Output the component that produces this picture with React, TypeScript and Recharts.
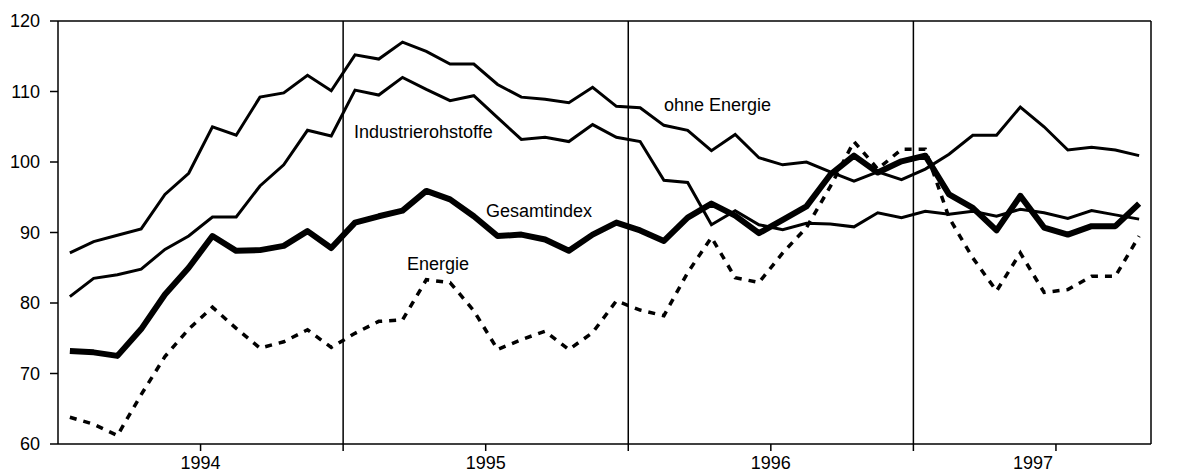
import { LineChart, Line, XAxis, YAxis, ReferenceLine } from "recharts"

const FONT = "'Liberation Sans', Arial, Helvetica, sans-serif"

// months Jan 1994 .. Oct 1997
const years = ["1994", "1995", "1996", "1997"]
const monthNames = ["Jan", "Feb", "Mar", "Apr", "May", "Jun", "Jul", "Aug", "Sep", "Oct", "Nov", "Dec"]
const months = years.flatMap((y) => monthNames.map((m) => `${m} ${y}`)).slice(0, 46)

// upper thin line
const industrierohstoffe = [
    87.1, 88.7, 89.6, 90.5, 95.4, 98.4, 105.0, 103.8, 109.2, 109.8, 112.3, 110.1,
    115.2, 114.6, 117.0, 115.7, 113.9, 113.9, 111.0, 109.2, 108.9, 108.4, 110.6, 107.9,
    107.7, 105.2, 104.5, 101.6, 103.9, 100.6, 99.6, 100.0, 98.6, 97.3, 98.6, 97.5,
    99.0, 101.1, 103.8, 103.8, 107.8, 105.0, 101.7, 102.1, 101.7, 100.9,
]

// lower thin line
const ohneEnergie = [
    80.9, 83.5, 84.0, 84.8, 87.6, 89.5, 92.2, 92.2, 96.6, 99.6, 104.5, 103.7,
    110.2, 109.5, 112.0, 110.3, 108.7, 109.4, 106.3, 103.2, 103.5, 102.9, 105.3, 103.5,
    102.9, 97.4, 97.1, 91.1, 93.1, 91.1, 90.4, 91.3, 91.2, 90.8, 92.8, 92.1,
    93.0, 92.6, 93.0, 92.3, 93.3, 92.8, 92.0, 93.1, 92.5, 91.9,
]

const gesamtindex = [
    73.2, 73.0, 72.5, 76.3, 81.2, 85.0, 89.5, 87.4, 87.5, 88.1, 90.2, 87.8,
    91.4, 92.3, 93.1, 95.9, 94.7, 92.3, 89.5, 89.7, 89.0, 87.4, 89.7, 91.4,
    90.3, 88.8, 92.1, 94.1, 92.4, 89.9, 91.8, 93.7, 98.2, 100.9, 98.5, 100.1,
    100.9, 95.4, 93.5, 90.3, 95.2, 90.7, 89.7, 90.9, 90.9, 94.1,
]

const energie = [
    63.8, 62.8, 61.2, 67.0, 72.4, 76.3, 79.4, 76.4, 73.6, 74.5, 76.2, 73.7,
    75.7, 77.4, 77.6, 83.3, 82.9, 78.9, 73.4, 74.8, 76.0, 73.4, 75.8, 80.3,
    79.0, 78.2, 84.3, 89.3, 83.6, 82.9, 87.1, 90.7, 96.5, 102.9, 99.0, 101.8,
    101.8, 92.1, 86.4, 81.7, 87.1, 81.5, 81.9, 83.8, 83.8, 89.5,
]

const yTicks = [60, 70, 80, 90, 100, 110, 120]
const xTicks = [6, 12, 18, 24, 30, 36, 42]
const yearLabels: Record<number, string> = { 6: "1994", 18: "1995", 30: "1996", 42: "1997" }
const yearBounds = [12, 24, 36]

const data = months.map((month, i) => ({
    month,
    pos: i + 0.5,
    industrierohstoffe: industrierohstoffe[i],
    ohneEnergie: ohneEnergie[i],
    gesamtindex: gesamtindex[i],
    energie: energie[i],
}))

function YearTick({ x, y, payload }: any) {
    const label = yearLabels[payload.value]
    if (!label) return <g />
    // the last year is only partly covered, its label sits left of its tick
    const dx = payload.value === 42 ? -23 : 0
    return (
        <text x={x + dx} y={y} dy="0.71em" textAnchor="middle" fontSize={18} fill="#000" fontFamily={FONT}>
            {label}
        </text>
    )
}

const labelStyle = { fontSize: 18, fill: "#000", fontFamily: FONT }

export default function App() {
    return (
        <div style={{ position: "absolute", left: 0, top: 0, background: "#fff" }}>
            <LineChart
                width={1194}
                height={473}
                data={data}
                margin={{ top: 21, right: 0, bottom: 0, left: 0 }}
                style={{ fontFamily: FONT }}
            >
                <XAxis
                    dataKey="pos"
                    type="number"
                    domain={[0, 46]}
                    ticks={xTicks}
                    interval={0}
                    height={29}
                    tickSize={7}
                    tickMargin={5}
                    tick={<YearTick />}
                    axisLine={{ stroke: "#000", strokeWidth: 1.5 }}
                    tickLine={{ stroke: "#000", strokeWidth: 1.5 }}
                />
                <YAxis
                    yAxisId="left"
                    domain={[60, 120]}
                    ticks={yTicks}
                    width={58}
                    tickSize={8}
                    tickMargin={10}
                    tick={{ fontSize: 18, fill: "#000", fontFamily: FONT }}
                    axisLine={{ stroke: "#000", strokeWidth: 1.5 }}
                    tickLine={{ stroke: "#000", strokeWidth: 1.5 }}
                />
                <YAxis
                    yAxisId="right"
                    orientation="right"
                    domain={[60, 120]}
                    ticks={yTicks}
                    width={43}
                    tickSize={6}
                    tickMargin={5}
                    tick={{ fontSize: 18, fill: "#000", fontFamily: FONT, textAnchor: "start" }}
                    axisLine={{ stroke: "#000", strokeWidth: 1.5 }}
                    tickLine={{ stroke: "#000", strokeWidth: 1.5 }}
                />
                <ReferenceLine yAxisId="left" y={120} stroke="#000" strokeWidth={1.5} />
                {yearBounds.map((b) => (
                    <ReferenceLine key={b} yAxisId="left" x={b} stroke="#000" strokeWidth={1.5} />
                ))}
                <Line
                    yAxisId="left"
                    dataKey="energie"
                    stroke="#000"
                    strokeWidth={3.5}
                    strokeDasharray="7 7"
                    dot={false}
                    isAnimationActive={false}
                />
                <Line
                    yAxisId="left"
                    dataKey="industrierohstoffe"
                    stroke="#000"
                    strokeWidth={3}
                    dot={false}
                    isAnimationActive={false}
                />
                <Line
                    yAxisId="left"
                    dataKey="ohneEnergie"
                    stroke="#000"
                    strokeWidth={3}
                    dot={false}
                    isAnimationActive={false}
                />
                <Line
                    yAxisId="left"
                    dataKey="gesamtindex"
                    stroke="#000"
                    strokeWidth={6}
                    strokeLinejoin="round"
                    dot={false}
                    isAnimationActive={false}
                />
                <text x={354} y={138} {...labelStyle}>Industrierohstoffe</text>
                <text x={664} y={111} {...labelStyle}>ohne Energie</text>
                <text x={486} y={217} {...labelStyle}>Gesamtindex</text>
                <text x={407} y={270} {...labelStyle}>Energie</text>
            </LineChart>
        </div>
    )
}
